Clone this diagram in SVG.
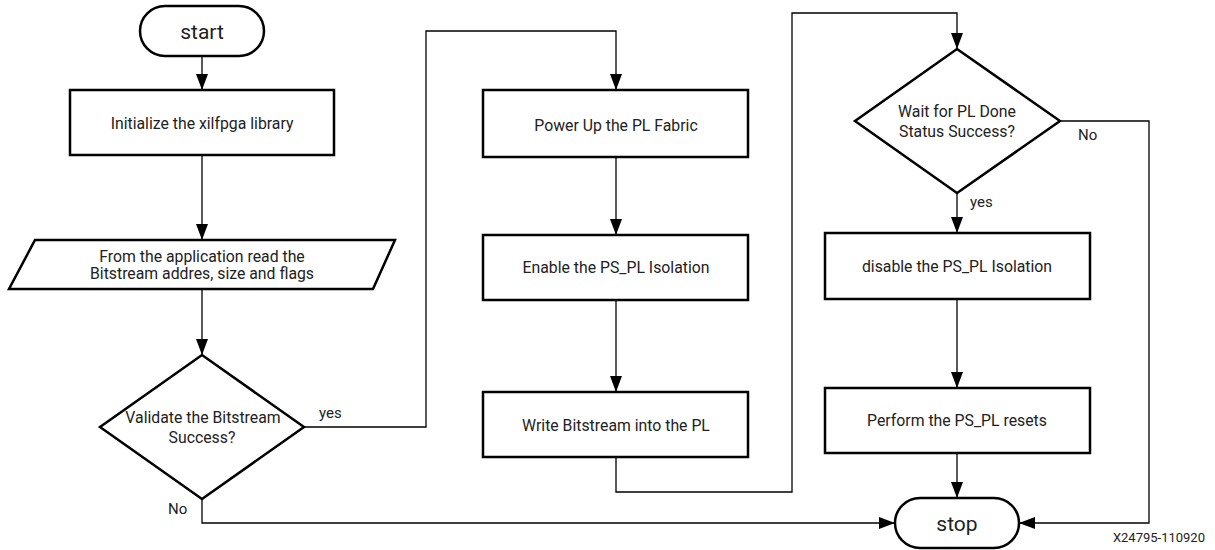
<svg xmlns="http://www.w3.org/2000/svg" width="1215" height="550" viewBox="0 0 1215 550">
<style>
.box{fill:#fff;stroke:#000;stroke-width:2.5}
.t{font-family:Roboto,"Liberation Sans",sans-serif;font-size:15.8px;fill:#222;text-anchor:middle}
.term{font-family:Roboto,"Liberation Sans",sans-serif;font-size:21px;fill:#222;text-anchor:middle}
.lbl{font-family:Roboto,"Liberation Sans",sans-serif;font-size:15px;fill:#222}
.c{fill:none;stroke:#000;stroke-width:1.3}
</style>
<defs>
<marker id="ah" markerUnits="userSpaceOnUse" markerWidth="16" markerHeight="12" refX="16" refY="6" orient="auto">
<path d="M0,0 L16,6 L0,12 z" fill="#000"/>
</marker>
</defs>
<rect width="1215" height="550" fill="#fff"/>
<g id="connectors">
<path class="c" d="M202,56 V90" marker-end="url(#ah)"/>
<path class="c" d="M202,155 V240" marker-end="url(#ah)"/>
<path class="c" d="M202,289 V355" marker-end="url(#ah)"/>
<path class="c" d="M304,427 H426 V31 H616 V90" marker-end="url(#ah)"/>
<path class="c" d="M616,157 V235" marker-end="url(#ah)"/>
<path class="c" d="M616,300 V392" marker-end="url(#ah)"/>
<path class="c" d="M616,457 V492 H792 V13 H957 V49" marker-end="url(#ah)"/>
<path class="c" d="M957,193 V233" marker-end="url(#ah)"/>
<path class="c" d="M957,299 V388" marker-end="url(#ah)"/>
<path class="c" d="M957,453 V498" marker-end="url(#ah)"/>
<path class="c" d="M202,499 V523 H895" marker-end="url(#ah)"/>
<path class="c" d="M1060,121 H1149 V523 H1019" marker-end="url(#ah)"/>
<text class="lbl" x="319" y="418">yes</text>
<text class="lbl" x="168" y="514">No</text>
<text class="lbl" x="1078" y="140">No</text>
<text class="lbl" x="970" y="207">yes</text>
</g>
<g id="start">
<rect class="box" x="140" y="6" width="124" height="50" rx="25"/>
<text class="term" x="202" y="39">start</text>
</g>
<g id="init">
<rect class="box" x="70" y="90" width="264" height="65"/>
<text class="t" x="202" y="129">Initialize the xilfpga library</text>
</g>
<g id="read">
<polygon class="box" points="35,240 395,240 373,289 9,289"/>
<text class="t" x="202" y="262">From the application read the</text>
<text class="t" x="202" y="279">Bitstream addres, size and flags</text>
</g>
<g id="validate">
<polygon class="box" points="202,355 304,427 202,499 100,427"/>
<text class="t" x="203" y="423">Validate the Bitstream</text>
<text class="t" x="202" y="443">Success?</text>
</g>
<g id="powerup">
<rect class="box" x="483" y="90" width="265" height="67"/>
<text class="t" x="616" y="131">Power Up the PL Fabric</text>
</g>
<g id="enable">
<rect class="box" x="483" y="235" width="265" height="65"/>
<text class="t" x="616" y="273">Enable the PS_PL Isolation</text>
</g>
<g id="write">
<rect class="box" x="483" y="392" width="265" height="65"/>
<text class="t" x="616" y="431">Write Bitstream into the PL</text>
</g>
<g id="wait">
<polygon class="box" points="957,49 1060,121 957,193 855,121"/>
<text class="t" x="957" y="117">Wait for PL Done</text>
<text class="t" x="957" y="137">Status Success?</text>
</g>
<g id="disable">
<rect class="box" x="825" y="233" width="265" height="66"/>
<text class="t" x="957" y="272">disable the PS_PL Isolation</text>
</g>
<g id="perform">
<rect class="box" x="825" y="388" width="265" height="65"/>
<text class="t" x="957" y="426">Perform the PS_PL resets</text>
</g>
<g id="stop">
<rect class="box" x="895" y="498" width="124" height="50" rx="25"/>
<text class="term" x="957" y="531">stop</text>
</g>
<text x="1205" y="542" font-family="Roboto,'Liberation Sans',sans-serif" font-size="13" fill="#222" text-anchor="end">X24795-110920</text>
</svg>
